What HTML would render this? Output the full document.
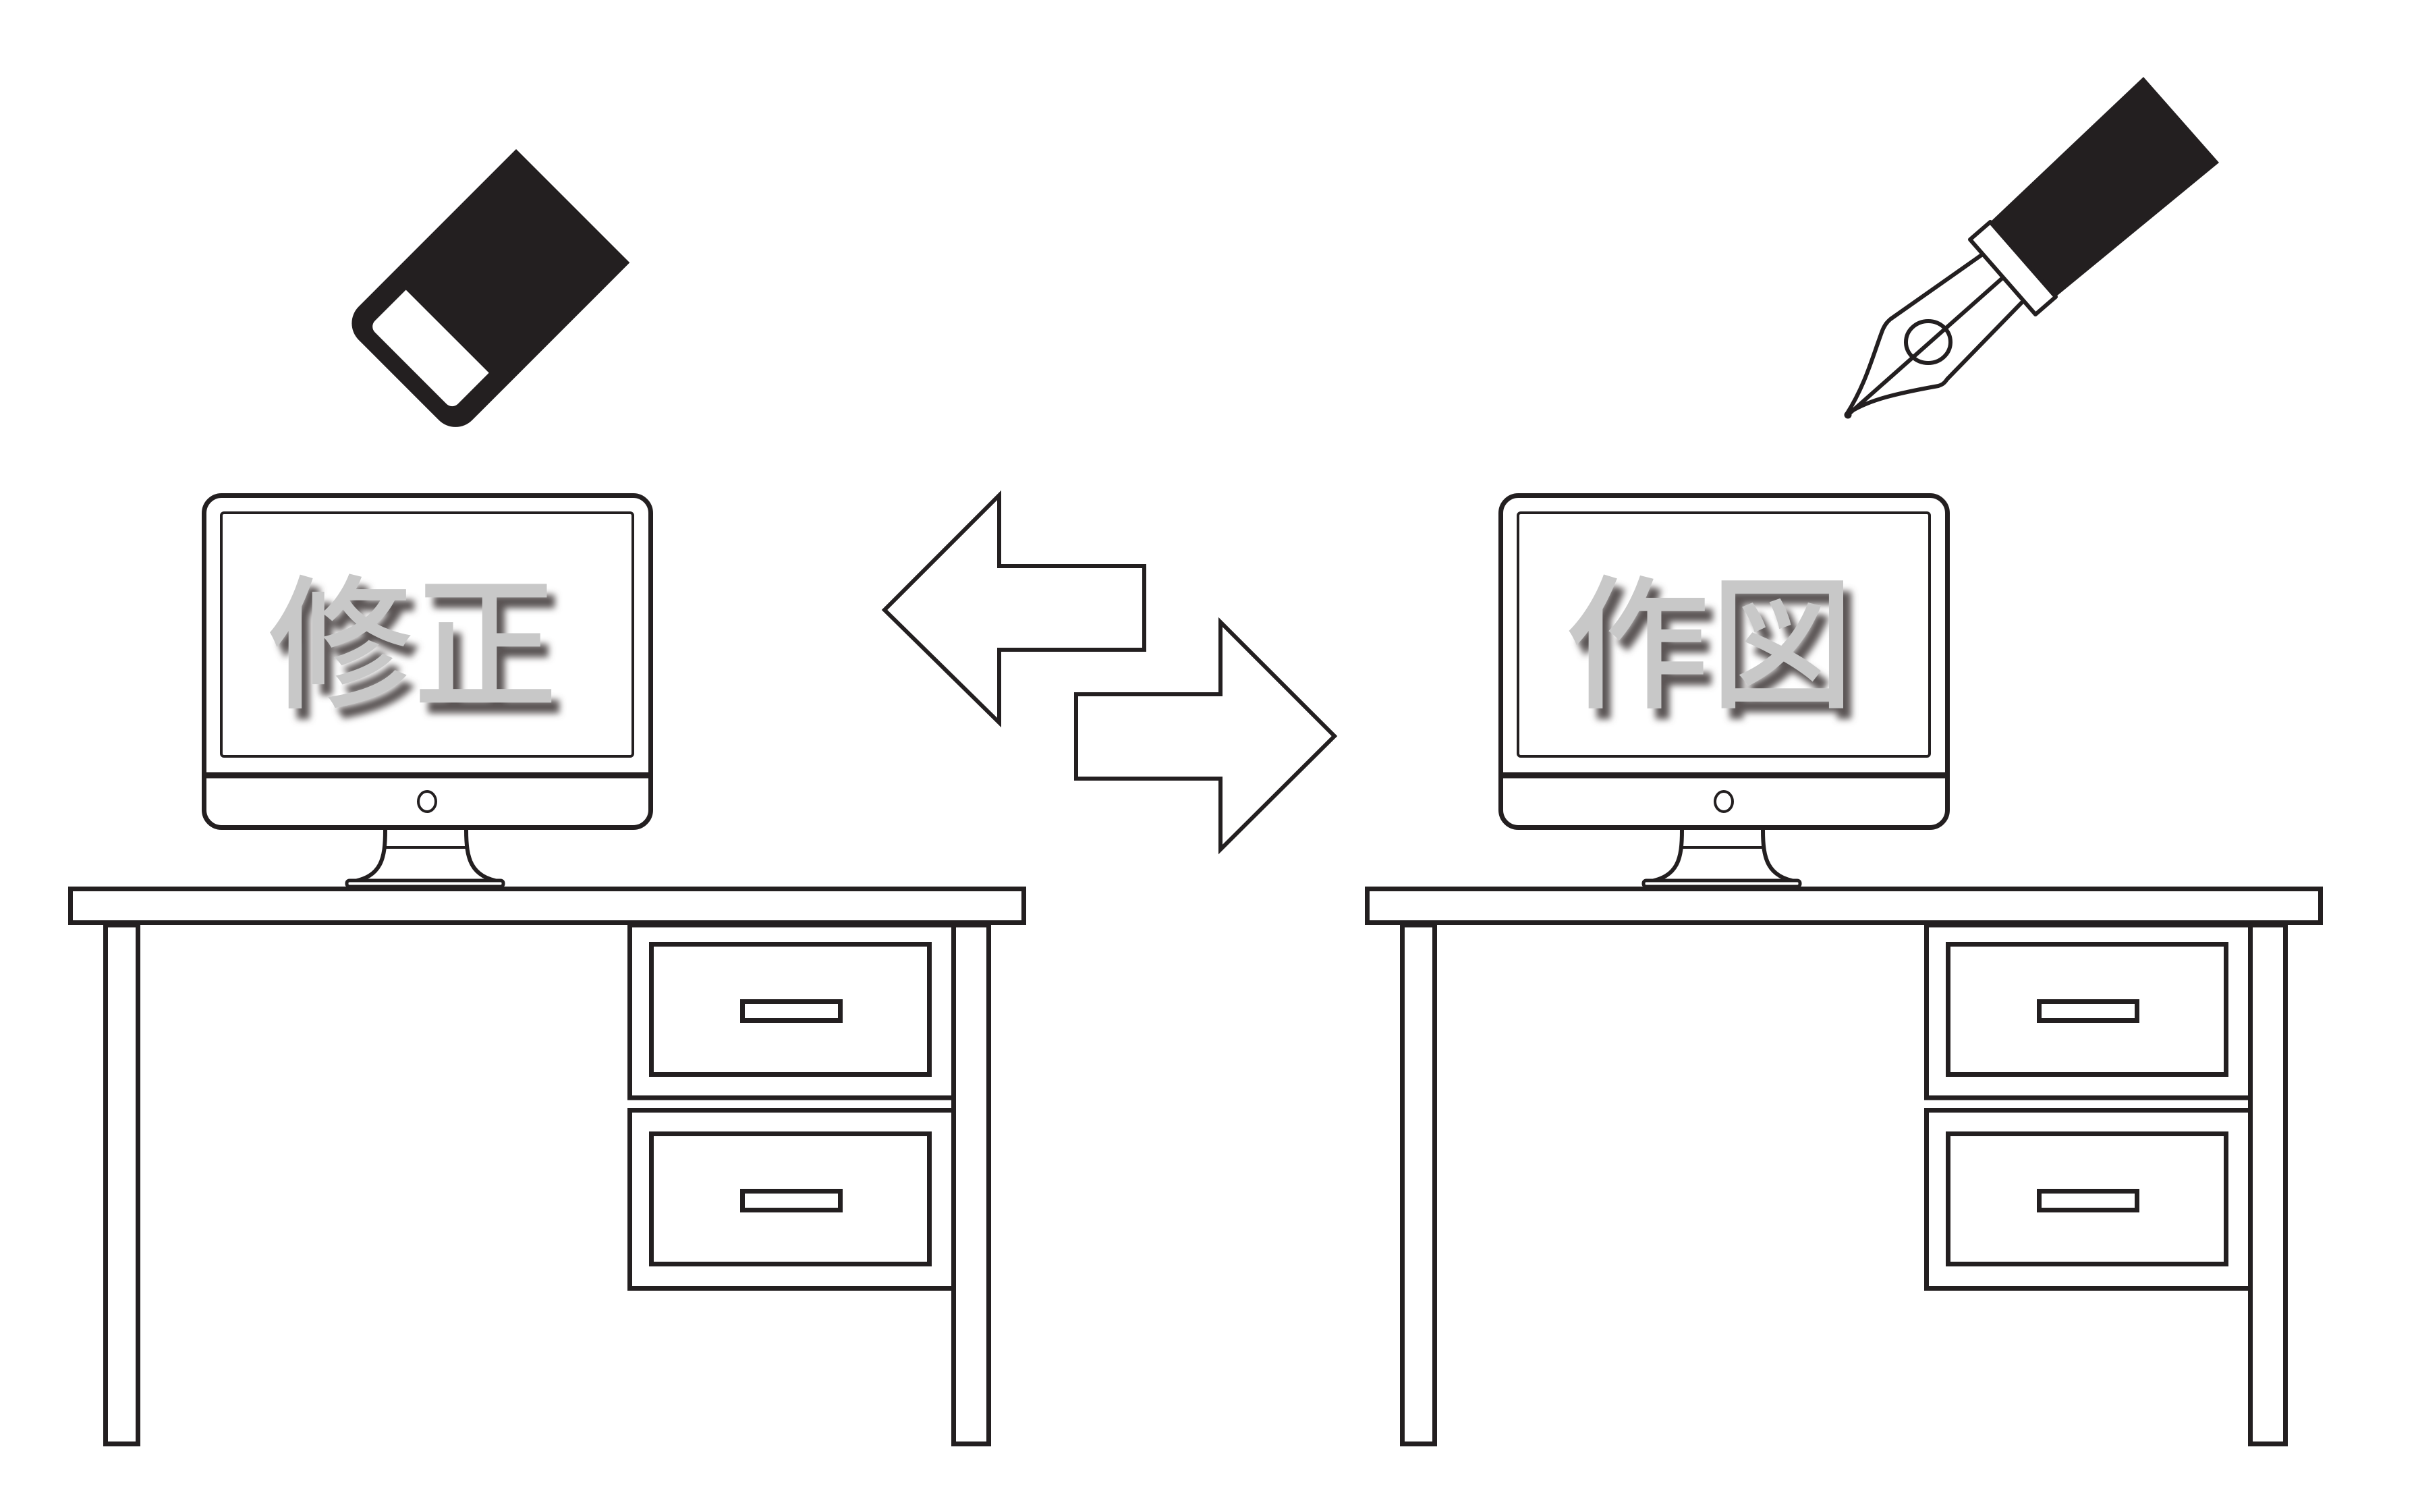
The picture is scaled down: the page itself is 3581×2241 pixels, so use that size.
<!DOCTYPE html>
<html><head><meta charset="utf-8"><style>
html,body{margin:0;padding:0;background:#fff;}
svg{display:block;}
</style></head><body>
<svg width="3581" height="2241" viewBox="0 0 3581 2241" xmlns="http://www.w3.org/2000/svg">
<defs>
<filter id="sh" x="-20%" y="-20%" width="150%" height="150%">
<feGaussianBlur in="SourceAlpha" stdDeviation="5" result="b"/>
<feOffset in="b" dx="12" dy="16" result="o"/>
<feFlood flood-color="#5a5454"/>
<feComposite in2="o" operator="in" result="s"/>
<feMerge><feMergeNode in="s"/><feMergeNode in="SourceGraphic"/></feMerge>
</filter>
<g id="station" fill="none" stroke="#231f20">
  <rect x="302.5" y="734.5" width="662" height="492" rx="26" fill="#fff" stroke-width="7"/>
  <rect x="328" y="760" width="610" height="361" rx="4" stroke-width="4"/>
  <line x1="300" y1="1149" x2="966" y2="1149" stroke-width="9"/>
  <ellipse cx="633" cy="1188" rx="13" ry="15" stroke-width="4"/>
  <path d="M571,1230 C571,1272 566,1300 520,1307" stroke-width="6"/>
  <path d="M691,1230 C691,1272 697,1300 743,1307" stroke-width="6"/>
  <line x1="570" y1="1256" x2="692" y2="1256" stroke-width="4"/>
  <rect x="514" y="1305" width="232" height="9" rx="4" stroke-width="5" fill="#fff"/>
  <rect x="104.5" y="1317.5" width="1413" height="50" stroke-width="7"/>
  <rect x="156.5" y="1371" width="48" height="769" stroke-width="7"/>
  <rect x="1413.5" y="1371" width="52" height="769" stroke-width="7"/>
  <rect x="933.5" y="1371" width="480" height="256" stroke-width="7"/>
  <rect x="933.5" y="1645.5" width="480" height="264" stroke-width="7"/>
  <rect x="965.5" y="1399.5" width="412" height="193" stroke-width="7"/>
  <rect x="1100.5" y="1484.5" width="145" height="28" stroke-width="7"/>
  <rect x="965.5" y="1680.5" width="412" height="193" stroke-width="7"/>
  <rect x="1100.5" y="1765.5" width="145" height="28" stroke-width="7"/>
</g>
</defs>

<use href="#station"/>
<use href="#station" transform="translate(1922,0)"/>

<g filter="url(#sh)">
<text x="612" y="1032" font-family="'Liberation Sans','Noto Sans CJK JP',sans-serif" font-size="215" font-weight="500" fill="#c8c8c8" text-anchor="middle">修正</text>
<text x="2534" y="1032" font-family="'Liberation Sans','Noto Sans CJK JP',sans-serif" font-size="215" font-weight="500" fill="#c8c8c8" text-anchor="middle">作図</text>
</g>

<g transform="translate(765,221) rotate(45)">
  <path d="M0,0 H238 V330 A35,35 0 0 1 203,365 H35 A35,35 0 0 1 0,330 Z" fill="#231f20"/>
  <path d="M32,263 H206 V328 A12,12 0 0 1 194,340 H44 A12,12 0 0 1 32,328 Z" fill="#fff"/>
</g>

<g fill="#fff" stroke="#231f20" stroke-width="6" stroke-linejoin="miter">
  <path d="M1311,904 L1481,734 L1481,839 L1696,839 L1696,963 L1481,963 L1481,1071 Z"/>
  <path d="M1595,1029 L1809,1029 L1809,922 L1978,1091 L1809,1259 L1809,1154 L1595,1154 Z"/>
</g>

<g stroke="#231f20" stroke-linejoin="round" stroke-linecap="round">
  <path d="M2950,329 L3177,114 L3289,241 L3047,440 Z" fill="#231f20" stroke="none"/>
  <path d="M2937,378 L2802,473 C2796,478 2793,483 2790,490 C2775,530 2765,570 2737,614 C2765,595 2800,585 2873,572 C2879,570 2882,568 2886,562 L2997,448" fill="#fff" stroke-width="6"/>
  <line x1="2967" y1="413" x2="2740" y2="614" stroke-width="6"/>
  <ellipse cx="2858" cy="507" rx="33" ry="31" fill="none" stroke-width="6"/>
  <circle cx="2739" cy="615" r="5" fill="#231f20"/>
  <path d="M2920,355 L2950,329 L3047,440 L3017,466 Z" fill="#fff" stroke-width="6"/>
</g>
</svg>
</body></html>
